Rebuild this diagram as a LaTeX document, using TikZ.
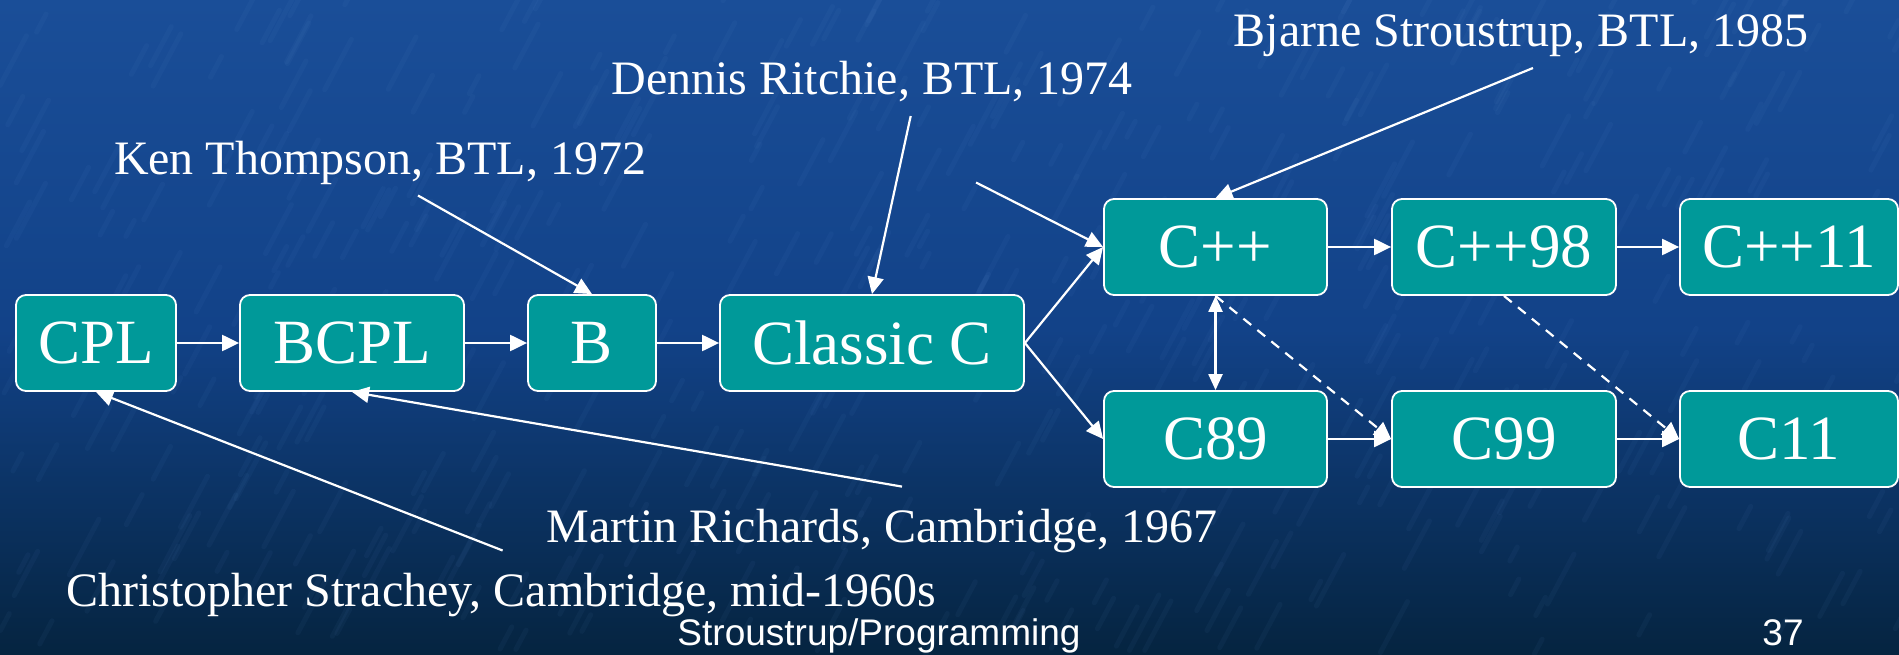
\documentclass[tikz,border=0pt]{standalone}
\usepackage{fontspec}
\setmainfont{Liberation Serif}
\newfontfamily\footfont{Liberation Sans}
\usetikzlibrary{arrows.meta}
\definecolor{boxteal}{RGB}{0,153,153}
\definecolor{bgtop}{RGB}{26,78,152}
\definecolor{bgmid}{RGB}{18,66,136}
\definecolor{bgbot}{RGB}{5,36,64}
\definecolor{streak}{RGB}{110,160,225}
\begin{document}
\begin{tikzpicture}[x=1pt,y=-1pt,
  box/.style={draw=white, line width=1.8pt, fill=boxteal, rounded corners=10pt,
    minimum height=96pt, inner sep=0pt, text=white, font=\fontsize{63}{63}\selectfont},
  arr/.style={draw=white, line width=2.2pt, -{Triangle[length=17pt,width=16pt]}},
  both/.style={draw=white, line width=2.2pt, {Triangle[length=16pt,width=14pt]}-{Triangle[length=16pt,width=14pt]}},
  darr/.style={arr, dash pattern=on 10pt off 8pt},
  note/.style={text=white, font=\fontsize{48}{48}\selectfont, inner sep=0pt, anchor=base},
  foot/.style={text=white, font=\footfont\fontsize{37}{37}\selectfont, inner sep=0pt, anchor=base},
]
\useasboundingbox (0,0) rectangle (1899,655);
% background
\shade[top color=bgtop, bottom color=bgmid] (0,0) rectangle (1899,330);
\shade[top color=bgmid, bottom color=bgbot] (0,329.5) rectangle (1899,655);
\pgfmathsetseed{7}
\foreach \i in {1,...,500}{
  \pgfmathsetmacro{\xx}{rnd*1899}
  \pgfmathsetmacro{\yy}{rnd*655}
  \pgfmathsetmacro{\ll}{15+rnd*50}
  \draw[streak, opacity=0.05, line width=5pt, line cap=round] (\xx,\yy) -- ++(-62:\ll);
}
% boxes
\node[box, minimum width=160pt] (cpl) at (96,343) {CPL};
\node[box, minimum width=224pt] (bcpl) at (352,343) {BCPL};
\node[box, minimum width=128pt] (b) at (592,343) {B};
\node[box, minimum width=304pt] (cc) at (872,343) {Classic C};
\node[box, minimum width=223pt] (cpp) at (1215.5,247) {C++};
\node[box, minimum width=224pt] (cpp98) at (1504,247) {C++98};
\node[box, minimum width=218pt] (cpp11) at (1789,247) {C++11};
\node[box, minimum width=223pt] (c89) at (1215.5,439) {C89};
\node[box, minimum width=224pt] (c99) at (1504,439) {C99};
\node[box, minimum width=218pt] (c11) at (1789,439) {C11};
% annotation texts
\node[note] (ken) at (380,174.6) {Ken Thompson, BTL, 1972};
\node[note] (den) at (872,94.5) {Dennis Ritchie, BTL, 1974};
\node[note] (bja) at (1521,47) {Bjarne Stroustrup, BTL, 1985};
\node[note] (mar) at (882,542) {Martin Richards, Cambridge, 1967};
\node[note, anchor=base west] (chr) at (66,606) {Christopher Strachey, Cambridge, mid-1960s};
% footer
\node[foot] (footer) at (879,645) {Stroustrup/Programming};
\node[foot] (page) at (1783,645) {37};
% annotation arrow starts
\coordinate (kens) at (418,195.5);
\coordinate (dens) at (910.7,116);
\coordinate (frees) at (976,182.5);
\coordinate (bjs) at (1533,68);
\coordinate (mars) at (902,486.6);
\coordinate (chrs) at (502.6,550.5);
% annotation arrows
\draw[arr] (kens) -- (b.north);
\draw[arr] (dens) -- (cc.north);
\draw[arr] (frees) -- (cpp.west);
\draw[arr] (bjs) -- (cpp.north);
\draw[arr] (mars) -- (bcpl.south);
\draw[arr] (chrs) -- (cpl.south);
% chain arrows
\draw[arr] (cpl.east) -- (bcpl.west);
\draw[arr] (bcpl.east) -- (b.west);
\draw[arr] (b.east) -- (cc.west);
\draw[arr] (cc.east) -- (cpp.west);
\draw[arr] (cc.east) -- (c89.west);
\draw[arr] (cpp.east) -- (cpp98.west);
\draw[arr] (cpp98.east) -- (cpp11.west);
\draw[arr] (c89.east) -- (c99.west);
\draw[arr] (c99.east) -- (c11.west);
\draw[both] (cpp.south) -- (c89.north);
\draw[darr] (cpp.south) -- (c99.west);
\draw[darr] (cpp98.south) -- (c11.west);
\end{tikzpicture}
\end{document}
